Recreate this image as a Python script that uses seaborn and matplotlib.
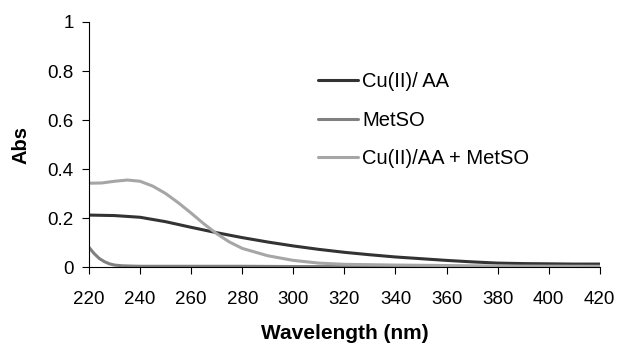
import pandas as pd
import matplotlib
matplotlib.use("Agg")
import matplotlib.pyplot as plt
import seaborn as sns
from matplotlib.ticker import FuncFormatter

# Data
wl_cuaa = [220, 230, 240, 250, 260, 270, 280, 290, 300, 310, 320, 330, 340, 350, 360, 370, 380, 390, 400, 410, 420]
abs_cuaa = [0.212, 0.210, 0.203, 0.185, 0.162, 0.140, 0.120, 0.102, 0.086, 0.072, 0.060, 0.050, 0.041, 0.034, 0.027, 0.021, 0.016, 0.014, 0.013, 0.012, 0.012]

wl_metso = [220, 222, 224, 226, 228, 230, 233, 236, 240, 260, 280, 300, 340, 380, 420]
abs_metso = [0.080, 0.055, 0.035, 0.022, 0.013, 0.008, 0.005, 0.004, 0.003, 0.003, 0.003, 0.002, 0.002, 0.002, 0.002]

wl_mix = [220, 225, 230, 235, 240, 245, 250, 255, 260, 265, 270, 275, 280, 290, 300, 310, 320, 340, 360, 380, 420]
abs_mix = [0.342, 0.343, 0.350, 0.355, 0.350, 0.330, 0.300, 0.262, 0.220, 0.176, 0.136, 0.102, 0.076, 0.046, 0.027, 0.016, 0.011, 0.008, 0.006, 0.004, 0.003]

labels = ["Cu(II)/ AA", "MetSO", "Cu(II)/AA + MetSO"]
colors = ["#333333", "#808080", "#a6a6a6"]

df = pd.concat([
    pd.DataFrame({"Wavelength": wl_cuaa, "Abs": abs_cuaa, "Sample": labels[0]}),
    pd.DataFrame({"Wavelength": wl_metso, "Abs": abs_metso, "Sample": labels[1]}),
    pd.DataFrame({"Wavelength": wl_mix, "Abs": abs_mix, "Sample": labels[2]}),
])

sns.set_style("ticks")
plt.rcParams["font.family"] = ["Liberation Sans", "DejaVu Sans"]
plt.rcParams["text.color"] = "black"
plt.rcParams["axes.labelcolor"] = "black"

fig = plt.figure(figsize=(6.19, 3.47), dpi=100)
ax = fig.add_axes([0.1438, 0.2305, 0.8252, 0.7061])

sns.lineplot(data=df, x="Wavelength", y="Abs", hue="Sample", hue_order=labels,
             palette=colors, linewidth=2.2, ax=ax)

ax.set_xlim(220, 420)
ax.set_ylim(0, 1)
ax.set_xticks(range(220, 421, 20))
ax.set_yticks([0, 0.2, 0.4, 0.6, 0.8, 1.0])
ax.yaxis.set_major_formatter(FuncFormatter(lambda v, p: "%g" % round(v, 1)))
ax.tick_params(axis="both", labelsize=13.5, direction="out", length=5, width=0.8, colors="black")
ax.tick_params(axis="x", pad=12)
ax.tick_params(axis="y", pad=6)
for s in ["top", "right"]:
    ax.spines[s].set_visible(False)
for s in ["left", "bottom"]:
    ax.spines[s].set_color("#000000")
    ax.spines[s].set_linewidth(0.8)

ax.set_xlabel("Wavelength (nm)", fontsize=15, fontweight="bold", labelpad=12)
ax.set_ylabel("Abs", fontsize=14.5, fontweight="bold", labelpad=12)

ax.legend(title=None, frameon=False, fontsize=14.5, loc="upper left",
          bbox_to_anchor=(318 / 619, 1 - 72 / 347), bbox_transform=fig.transFigure,
          borderpad=0, borderaxespad=0, handlelength=2.0, handletextpad=0.2,
          labelspacing=0.98)

plt.savefig("out.png", dpi=100)
plt.close()
